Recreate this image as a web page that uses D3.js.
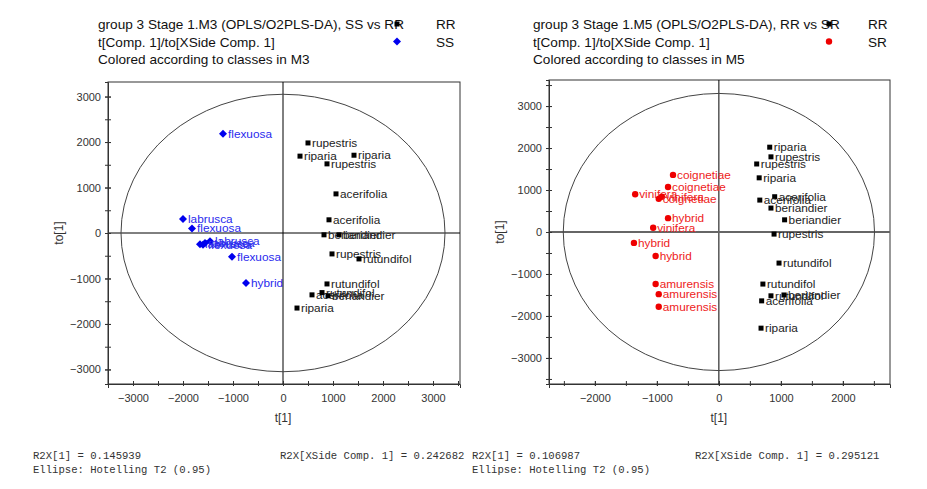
<!DOCTYPE html>
<html>
<head>
<meta charset="utf-8">
<script src="https://cdn.jsdelivr.net/npm/d3@7"></script>
<style>
  body { margin: 0; background: #fff; }
  svg { display: block; font-family: Arial, "Liberation Sans", sans-serif; }
</style>
</head>
<body>
<div id="chart"></div>
<script>
//---------data------------------------------------------
// M3 : SS vs RR
const m3RRLabels = ['rupestris','riparia','riparia','rupestris','acerifolia','acerifolia','beriandier','beriandier','rupestris','rutundifol','rutundifol','acerifolia','rutundifol','beriandier','riparia'];
const m3RRX = [500, 340, 1420, 880, 1060, 920, 820, 1120, 980, 1520, 880, 580, 780, 900, 280];
const m3RRY = [1980, 1690, 1710, 1520, 860, 290, -40, -40, -460, -570, -1120, -1360, -1310, -1380, -1650];

const m3SSLabels = ['flexuosa','labrusca','flexuosa','labrusca','labrusca','labrusca','flexuosa','flexuosa','hybrid'];
const m3SSX = [-1200, -2000, -1820, -1660, -1560, -1460, -1600, -1020, -740];
const m3SSY = [2180, 310, 100, -250, -220, -180, -260, -520, -1100];

// M5 : RR vs SR
const m5RRLabels = ['riparia','rupestris','rupestris','riparia','acerifolia','acerifolia','beriandier','beriandier','rupestris','rutundifol','rutundifol','rutundifol','beriandier','acerifolia','riparia'];
const m5RRX = [820, 840, 610, 650, 900, 660, 840, 1060, 890, 970, 710, 840, 1050, 690, 680];
const m5RRY = [2020, 1790, 1620, 1290, 840, 760, 570, 290, -50, -740, -1240, -1520, -1500, -1640, -2290];

const m5SRLabels = ['coignetiae','coignetiae','vinifera','vinifera','coignetiae','hybrid','vinifera','hybrid','hybrid','amurensis','amurensis','amurensis'];
const m5SRX = [-740, -820, -1350, -920, -970, -820, -1060, -1370, -1020, -1020, -970, -970];
const m5SRY = [1360, 1070, 900, 840, 790, 330, 100, -260, -570, -1240, -1480, -1780];

// axis ticks and ellipse (Hotelling T2 0.95) semi axes
const m3Ticks = [-3000, -2000, -1000, 0, 1000, 2000, 3000];
const m5XTicks = [-2000, -1000, 0, 1000, 2000];
const m5YTicks = [-3000, -2000, -1000, 0, 1000, 2000, 3000];
const m3Ellipse = [3240, 3050];
const m5Ellipse = [2510, 3300];

const width = 927, height = 489;

const svg = d3.select('#chart')
  .append('svg')
  .attr('width', width)
  .attr('height', height);

// one score plot panel
function scorePlot(opt) {
  const x = d3.scaleLinear().domain(opt.xDomain).range([opt.left, opt.right]);
  const y = d3.scaleLinear().domain(opt.yDomain).range([opt.bottom, opt.top]);
  const g = svg.append('g');

  // header text + legend
  const hd = g.append('g').attr('font-size', 13.6).attr('fill', '#111');
  opt.header.forEach((t, i) => {
    hd.append('text').attr('x', opt.hx).attr('y', 29 + i * 17.5).text(t);
  });
  opt.legend.forEach((t, i) => {
    hd.append('text').attr('x', opt.lx).attr('y', 29 + i * 17.5).text(t.name);
    drawMark(g, t.shape, opt.lx - 39, 24 + i * 17.5, t.color);
  });

  // frame
  g.append('rect')
    .attr('x', opt.left).attr('y', opt.top)
    .attr('width', opt.right - opt.left).attr('height', opt.bottom - opt.top)
    .attr('fill', 'none').attr('stroke', '#333').attr('stroke-width', 1);

  // zero lines
  g.append('line')
    .attr('x1', x(0)).attr('x2', x(0)).attr('y1', opt.top).attr('y2', opt.bottom)
    .attr('stroke', '#000');
  g.append('line')
    .attr('x1', opt.left).attr('x2', opt.right).attr('y1', y(0)).attr('y2', y(0))
    .attr('stroke', opt.hzColor).attr('stroke-width', opt.hzWidth);

  // ellipse
  g.append('ellipse')
    .attr('cx', x(0)).attr('cy', y(0))
    .attr('rx', x(opt.ellipse[0]) - x(0)).attr('ry', y(0) - y(opt.ellipse[1]))
    .attr('fill', 'none').attr('stroke', '#444').attr('stroke-width', 1);

  // axes
  const minorX = d3.range(Math.ceil(opt.xDomain[0] / 500) * 500, opt.xDomain[1] + 1, 500);
  const minorY = d3.range(Math.ceil(opt.yDomain[0] / 500) * 500, opt.yDomain[1] + 1, 500);

  const xAx = g.append('g').attr('transform', `translate(0,${opt.bottom})`);
  xAx.call(d3.axisBottom(x).tickValues(minorX).tickSize(4).tickFormat(''))
    .call(a => a.selectAll('.tick line').attr('y1', -3).attr('y2', 2));
  xAx.append('g')
    .call(d3.axisBottom(x).tickValues(opt.xTicks).tickSize(3).tickPadding(7).tickFormat(d3.format('d')))
    .call(a => a.select('.domain').remove())
    .call(a => a.selectAll('.tick line').attr('y1', -3).attr('y2', 2));

  const yAx = g.append('g').attr('transform', `translate(${opt.left},0)`);
  yAx.call(d3.axisLeft(y).tickValues(minorY).tickSize(3).tickFormat(''))
    .call(a => a.selectAll('.tick line').attr('x1', -3).attr('x2', 3));
  yAx.append('g')
    .call(d3.axisLeft(y).tickValues(opt.yTicks).tickSize(3).tickPadding(4).tickFormat(d3.format('d')))
    .call(a => a.select('.domain').remove())
    .call(a => a.selectAll('.tick line').attr('x1', -3).attr('x2', 3));

  g.selectAll('.domain').attr('stroke', '#333');
  g.selectAll('.tick line').attr('stroke', '#333');
  g.selectAll('.tick text').attr('font-size', 11).attr('fill', '#333')
    .attr('font-family', 'Arial, "Liberation Sans", sans-serif');

  // axis titles
  g.append('text')
    .attr('x', x(0)).attr('y', 422)
    .attr('text-anchor', 'middle').attr('font-size', 12).attr('fill', '#333')
    .text('t[1]');
  g.append('text')
    .attr('transform', `translate(${opt.left - 45},${y(0)}) rotate(-90)`)
    .attr('text-anchor', 'middle').attr('font-size', 12).attr('fill', '#333')
    .text('to[1]');

  // points + labels, one group per class
  opt.series.forEach(s => {
    const data = s.labels.map((l, i) => ({ label: l, x: s.xs[i], y: s.ys[i] }));
    const pt = g.append('g').selectAll('g').data(data).join('g')
      .attr('transform', d => `translate(${x(d.x)},${y(d.y)})`);
    pt.each(function() { drawMark(d3.select(this), s.shape, 0, 0, s.color); });
    pt.append('text')
      .attr('x', s.shape === 'diamond' ? 5 : 4).attr('y', 4)
      .attr('font-size', 11.8).attr('fill', s.textColor)
      .text(d => d.label);
  });

  // stats footer
  const ft = g.append('g').attr('font-family', '"Liberation Mono", "Courier New", monospace')
    .attr('font-size', 10.6).attr('fill', '#333');
  ft.append('text').attr('x', opt.fx).attr('y', 459).text(opt.footer[0]);
  ft.append('text').attr('x', opt.fx2).attr('y', 459).text(opt.footer[1]);
  ft.append('text').attr('x', opt.fx).attr('y', 473).text('Ellipse: Hotelling T2 (0.95)');
}

function drawMark(sel, shape, cx, cy, color) {
  if (shape === 'square') {
    sel.append('rect').attr('x', cx - 2.5).attr('y', cy - 2.5).attr('width', 5).attr('height', 5).attr('fill', color);
  } else if (shape === 'diamond') {
    sel.append('path').attr('d', `M${cx},${cy - 4}L${cx + 4},${cy}L${cx},${cy + 4}L${cx - 4},${cy}Z`).attr('fill', color);
  } else {
    sel.append('circle').attr('cx', cx).attr('cy', cy).attr('r', 3.2).attr('fill', color);
  }
}

scorePlot({
  left: 108, right: 460, top: 82, bottom: 384,
  xDomain: [-3500, 3540], yDomain: [-3320, 3320],
  xTicks: m3Ticks, yTicks: m3Ticks,
  ellipse: m3Ellipse, hzColor: '#000', hzWidth: 1,
  hx: 98, lx: 436,
  header: ['group 3 Stage 1.M3 (OPLS/O2PLS-DA), SS vs RR', 't[Comp. 1]/to[XSide Comp. 1]', 'Colored according to classes in M3'],
  legend: [{ name: 'RR', shape: 'square', color: '#000' }, { name: 'SS', shape: 'diamond', color: '#0000ee' }],
  series: [
    { labels: m3RRLabels, xs: m3RRX, ys: m3RRY, shape: 'square', color: '#000', textColor: '#222' },
    { labels: m3SSLabels, xs: m3SSX, ys: m3SSY, shape: 'diamond', color: '#0000ee', textColor: '#2a2aee' }
  ],
  fx: 33, fx2: 280,
  footer: ['R2X[1] = 0.145939', 'R2X[XSide Comp. 1] = 0.242682']
});

scorePlot({
  left: 549, right: 890, top: 80, bottom: 384,
  xDomain: [-2740, 2760], yDomain: [-3620, 3620],
  xTicks: m5XTicks, yTicks: m5YTicks,
  ellipse: m5Ellipse, hzColor: '#666', hzWidth: 2,
  hx: 533, lx: 868,
  header: ['group 3 Stage 1.M5 (OPLS/O2PLS-DA), RR vs SR', 't[Comp. 1]/to[XSide Comp. 1]', 'Colored according to classes in M5'],
  legend: [{ name: 'RR', shape: 'square', color: '#000' }, { name: 'SR', shape: 'circle', color: '#ee0000' }],
  series: [
    { labels: m5RRLabels, xs: m5RRX, ys: m5RRY, shape: 'square', color: '#000', textColor: '#222' },
    { labels: m5SRLabels, xs: m5SRX, ys: m5SRY, shape: 'circle', color: '#ee0000', textColor: '#ee2222' }
  ],
  fx: 472, fx2: 695,
  footer: ['R2X[1] = 0.106987', 'R2X[XSide Comp. 1] = 0.295121']
});
</script>
</body>
</html>
